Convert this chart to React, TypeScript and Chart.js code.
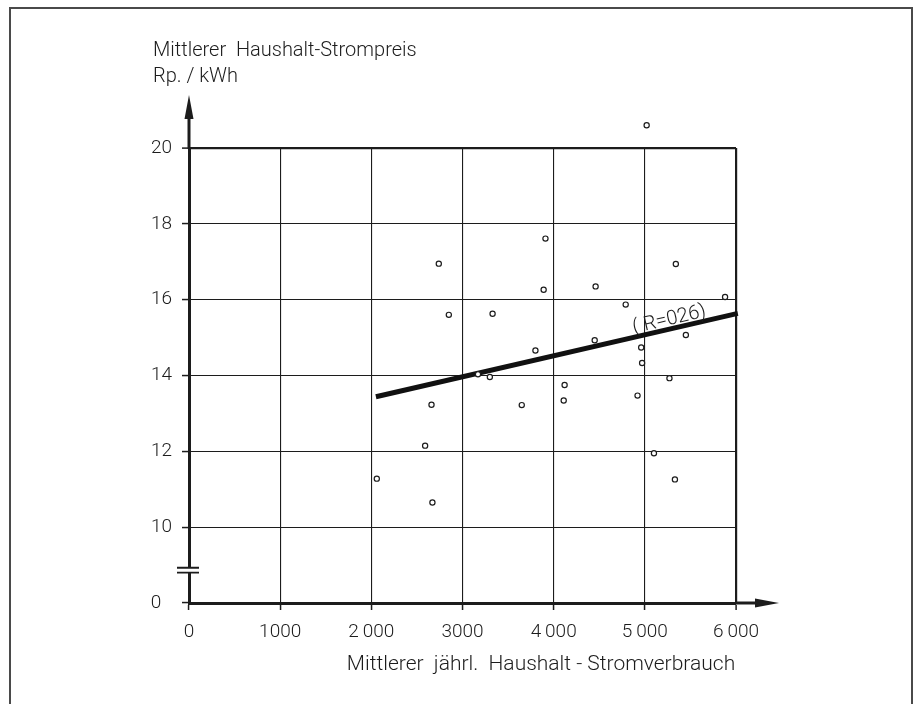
import React, { useEffect, useRef } from "react";
import { Chart, registerables } from "chart.js";

Chart.register(...registerables);

// ---- data ----
const consumption = [
  2060, 2590, 2660, 2670, 2740, 2850, 3170, 3300, 3330, 3650, 3800, 3890, 3910, 4110,
  4120, 4450, 4460, 4790, 4920, 4960, 4970, 5020, 5100, 5270, 5330, 5340, 5450, 5880,
];
const price = [
  11.28, 12.15, 13.23, 10.65, 16.95, 15.6, 14.03, 13.96, 15.63, 13.22, 14.66, 16.26, 17.61, 13.34,
  13.75, 14.93, 16.35, 15.87, 13.47, 14.74, 14.33, 20.6, 11.95, 13.93, 11.26, 16.94, 15.07, 16.07,
];
const regX = [2050, 6020];
const regY = [13.44, 15.64];
const xTickValues = [0, 1000, 2000, 3000, 4000, 5000, 6000];
const xTickLabels = ["0", "1000", "2\u2009000", "3000", "4\u2009000", "5\u2009000", "6\u2009000"];
// the axis is broken: display value 8 stands for 0
const yTickValues = [8, 10, 12, 14, 16, 18, 20];
const yTickLabels = ["0\u2007", "10", "12", "14", "16", "18", "20"];
const yTitle = ["Mittlerer  Haushalt-Strompreis", "Rp. / kWh"];
const xTitle = "Mittlerer  jährl.  Haushalt - Stromverbrauch";
const rLabel = "( R=026)";
const rLabelAtX = 5290;

const INK = "#1c1c1c";
const FONT = "Roboto, 'DejaVu Sans', sans-serif";

const decor = {
  id: "decor",
  beforeDraw(chart: any) {
    const ctx = chart.ctx;
    ctx.save();
    ctx.fillStyle = "#ffffff";
    ctx.fillRect(0, 0, chart.width, chart.height);
    ctx.restore();
  },
  // let points above the top gridline (e.g. 20.6) be drawn
  beforeDatasetsDraw(chart: any) {
    chart.$savedArea = chart.chartArea;
    chart.chartArea = { ...chart.chartArea, top: chart.chartArea.top - 60 };
  },
  afterDatasetsDraw(chart: any) {
    if (chart.$savedArea) chart.chartArea = chart.$savedArea;
  },
  afterDraw(chart: any) {
    const ctx = chart.ctx;
    const { left, right, top, bottom } = chart.chartArea;
    const xs = chart.scales.x;
    const ys = chart.scales.y;
    ctx.save();
    ctx.strokeStyle = INK;
    ctx.fillStyle = INK;

    // y axis extension + arrow
    ctx.lineWidth = 3;
    ctx.beginPath();
    ctx.moveTo(left, top + 1);
    ctx.lineTo(left, top - 32);
    ctx.stroke();
    ctx.beginPath();
    ctx.moveTo(left, top - 53);
    ctx.lineTo(left - 4.5, top - 29);
    ctx.lineTo(left + 4.5, top - 29);
    ctx.closePath();
    ctx.fill();

    // x axis extension + arrow
    ctx.beginPath();
    ctx.moveTo(right - 1, bottom);
    ctx.lineTo(right + 22, bottom);
    ctx.stroke();
    ctx.beginPath();
    ctx.moveTo(right + 43, bottom);
    ctx.lineTo(right + 19, bottom - 4.5);
    ctx.lineTo(right + 19, bottom + 4.5);
    ctx.closePath();
    ctx.fill();

    // axis break
    const yb1 = ys.getPixelForValue(8.93);
    const yb2 = ys.getPixelForValue(8.8);
    ctx.fillStyle = "#ffffff";
    ctx.fillRect(left - 3, yb1, 6, yb2 - yb1);
    ctx.lineWidth = 1.8;
    ctx.beginPath();
    ctx.moveTo(left - 12, yb1);
    ctx.lineTo(left + 10, yb1);
    ctx.moveTo(left - 12, yb2);
    ctx.lineTo(left + 10, yb2);
    ctx.stroke();

    // regression label
    const x0 = xs.getPixelForValue(regX[0]);
    const y0 = ys.getPixelForValue(regY[0]);
    const x1 = xs.getPixelForValue(regX[1]);
    const y1 = ys.getPixelForValue(regY[1]);
    const ang = Math.atan2(y1 - y0, x1 - x0);
    const ly = regY[0] + ((rLabelAtX - regX[0]) * (regY[1] - regY[0])) / (regX[1] - regX[0]);
    ctx.save();
    ctx.translate(xs.getPixelForValue(rLabelAtX), ys.getPixelForValue(ly));
    ctx.rotate(ang);
    ctx.fillStyle = INK;
    ctx.font = `300 20px ${FONT}`;
    ctx.textAlign = "center";
    ctx.textBaseline = "alphabetic";
    ctx.fillText(rLabel, 0, -4);
    ctx.restore();

    // titles
    ctx.fillStyle = INK;
    ctx.font = `300 20px ${FONT}`;
    ctx.textAlign = "left";
    ctx.textBaseline = "middle";
    ctx.fillText(yTitle[0], 153, 51);
    ctx.fillText(yTitle[1], 153, 77);
    ctx.font = `300 21px ${FONT}`;
    ctx.textAlign = "center";
    ctx.fillText(xTitle, 541, 665);

    // outer frame
    ctx.strokeStyle = "#4a4a4a";
    ctx.lineWidth = 2;
    ctx.strokeRect(10, 8, 902, 720);
    ctx.restore();
  },
};

export default function App() {
  const ref = useRef<HTMLCanvasElement | null>(null);

  useEffect(() => {
    if (!ref.current) return;
    const chart = new Chart(ref.current, {
      type: "scatter",
      data: {
        datasets: [
          {
            type: "scatter",
            label: "Gemeinden",
            data: consumption.map((c, i) => ({ x: c, y: price[i] })),
            pointRadius: 2.6,
            pointBorderWidth: 1.2,
            pointBorderColor: INK,
            pointBackgroundColor: "#ffffff",
            clip: false,
            order: 0,
          } as any,
          {
            type: "line",
            label: "Regression",
            data: regX.map((v, i) => ({ x: v, y: regY[i] })),
            borderColor: "#111111",
            borderWidth: 5,
            pointRadius: 0,
            fill: false,
            clip: false,
            order: 1,
          } as any,
        ],
      },
      options: {
        responsive: false,
        maintainAspectRatio: false,
        animation: false,
        devicePixelRatio: 1,
        layout: { padding: { top: 148, right: 183, left: 0, bottom: 0 } },
        plugins: {
          legend: { display: false },
          tooltip: { enabled: false },
        },
        scales: {
          x: {
            type: "linear",
            min: 0,
            max: 6000,
            afterFit: (s: any) => {
              s.height = 101;
            },
            afterBuildTicks: (s: any) => {
              s.ticks = xTickValues.map((v) => ({ value: v }));
            },
            ticks: {
              autoSkip: false,
              maxRotation: 0,
              padding: 11,
              color: INK,
              font: { size: 19, family: FONT, weight: "300" },
              callback: (v: any) => xTickLabels[xTickValues.indexOf(Number(v))] ?? "",
            },
            grid: {
              color: INK,
              lineWidth: (c: any) => (c.tick && c.tick.value === 6000 ? 2.2 : 1.1),
              tickLength: 7,
              tickWidth: 1.5,
              tickColor: INK,
            },
            border: { display: true, color: INK, width: 3 },
          },
          y: {
            type: "linear",
            min: 8,
            max: 20,
            afterFit: (s: any) => {
              s.width = 189;
            },
            afterBuildTicks: (s: any) => {
              s.ticks = yTickValues.map((v) => ({ value: v }));
            },
            ticks: {
              autoSkip: false,
              padding: 10,
              color: INK,
              font: { size: 19, family: FONT, weight: "300" },
              callback: (v: any) => yTickLabels[yTickValues.indexOf(Number(v))] ?? "",
            },
            grid: {
              color: INK,
              lineWidth: (c: any) => (c.tick && c.tick.value === 20 ? 2.2 : 1.1),
              tickLength: 7,
              tickWidth: 1.5,
              tickColor: INK,
            },
            border: { display: true, color: INK, width: 3 },
          },
        },
      } as any,
      plugins: [decor],
    });
    return () => chart.destroy();
  }, []);

  return (
    <div style={{ position: "fixed", left: 0, top: 0, width: 919, height: 704, background: "#fff" }}>
      <canvas ref={ref} width={919} height={704} style={{ display: "block", width: 919, height: 704 }} />
    </div>
  );
}
